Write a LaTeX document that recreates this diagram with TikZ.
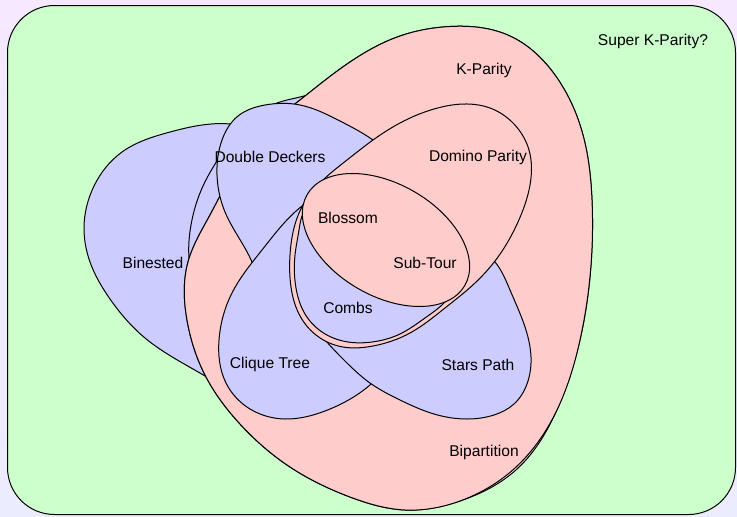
\documentclass[tikz,border=0pt]{standalone}
\usepackage{fontspec}
\setmainfont{Liberation Sans}
\usetikzlibrary{hobby}
\definecolor{kpink}{HTML}{FFCCCC}
\definecolor{kblue}{HTML}{CCCCFF}
\definecolor{kgreen}{HTML}{CCFFCC}
\definecolor{bgtop}{RGB}{245,232,255}
\definecolor{bgbot}{RGB}{236,236,255}
\tikzset{
  setline/.style={draw=black, line width=1pt, line join=round},
  pinkset/.style={setline, fill=kpink},
  blueset/.style={setline, fill=kblue},
  lbl/.style={font=\fontsize{15.6}{18}\selectfont, inner sep=0pt, anchor=base, text=black}
}
\begin{document}
\begin{tikzpicture}[x=1pt,y=-1pt]
\useasboundingbox (0,0) rectangle (737,517);
\shade[top color=bgtop, bottom color=bgbot] (0,0) rectangle (737,517);
% Super K-Parity?
\draw[fill=kgreen, line width=1pt, rounded corners=47pt] (7.5,5.5) rectangle (735.5,514.5);
% Binested
\path[blueset] plot[closed hobby] coordinates {(230,124) (170,132) (122,152) (94,186) (84,228) (90,262) (110,299) (145,338) (205,376) (250,392) (300,330) (310,230) (285,150)};
% blue outline behind K-Parity
\path[blueset] plot[closed hobby] coordinates {(189,258) (191,225) (203,186) (217,161) (245,125) (277,103) (300,97) (330,95) (350,130) (330,230) (250,305) (200,290)};
% Bipartition
\path[pinkset] plot[closed hobby] coordinates {(450,26.5) (510,36) (555,75) (583,135) (592,200) (591,265) (580,340) (556,412) (516.5,469.5) (460,501) (405,510) (350,497) (290,467) (240,424) (205,375) (187,320) (188,262) (210,215) (255,140) (300,100) (350,62) (400,36)};
% K-Parity
\path[pinkset] plot[closed hobby] coordinates {(450,26.5) (510,36) (555,75) (583,135) (592,200) (591,265) (580,340) (556,412) (515,468) (460,501) (405,510) (350,497) (290,467) (240,424) (205,375) (187,320) (188,262) (210,215) (255,140) (300,100) (350,62) (400,36)};
% Double Deckers
\path[blueset] plot[closed hobby] coordinates {(373,140) (340,121) (300,105) (265,105) (238,116) (222,140) (217,175) (225,212) (252,262) (268,290) (320,285) (375,230) (397,170)};
% Clique Tree
\path[blueset] plot[closed hobby] coordinates {(302,206) (262,250) (233,291) (219,340) (226,383) (250,409) (285,419) (325,411) (370,385) (395,350) (390,290) (360,225) (325,196)};
% Stars Path
\path[blueset] plot[closed hobby] coordinates {(495,262) (510,290) (524,324) (531,357) (527,384) (514,404) (494,415) (467,419) (434,414) (400,400) (370,383) (342,358) (316,327) (302,290) (302,240) (330,215) (400,222) (460,240)};
% Domino Parity
\path[pinkset] plot[closed hobby] coordinates {(400,123) (373,140) (347,160) (323,180) (303,205) (294,228) (290,255) (291,287) (299,314) (316,335) (343,347) (373,346) (410,333) (445,308) (475,283) (498,257) (518,222) (530,185) (529,150) (514,124) (490,108) (464,104) (434,109)};
% Combs
\path[blueset] plot[closed hobby] coordinates {(305,210) (299,230) (295,255) (296,288) (305,314) (322,332) (348,342) (372,342) (400,334) (425,318) (445,302) (458,270) (420,225) (350,200)};
% Blossom / Sub-Tour
\path[pinkset, rotate around={-30:(386,240)}] (386,240) ellipse [x radius=91pt, y radius=56pt];
% labels
\node[lbl] (super) at (653,45.5) {Super K-Parity?};
\node[lbl] (kpar) at (484,74.5) {K-Parity};
\node[lbl] (domino) at (478,161.5) {Domino Parity};
\node[lbl] (dd) at (270,162.5) {Double Deckers};
\node[lbl] (blossom) at (348,223) {Blossom};
\node[lbl] (subtour) at (425,268) {Sub-Tour};
\node[lbl] (combs) at (348,313) {Combs};
\node[lbl] (binested) at (153,268) {Binested};
\node[lbl] (clique) at (270,368.5) {Clique Tree};
\node[lbl] (stars) at (478,370) {Stars Path};
\node[lbl] (bipart) at (484,456.5) {Bipartition};
\end{tikzpicture}
\end{document}
